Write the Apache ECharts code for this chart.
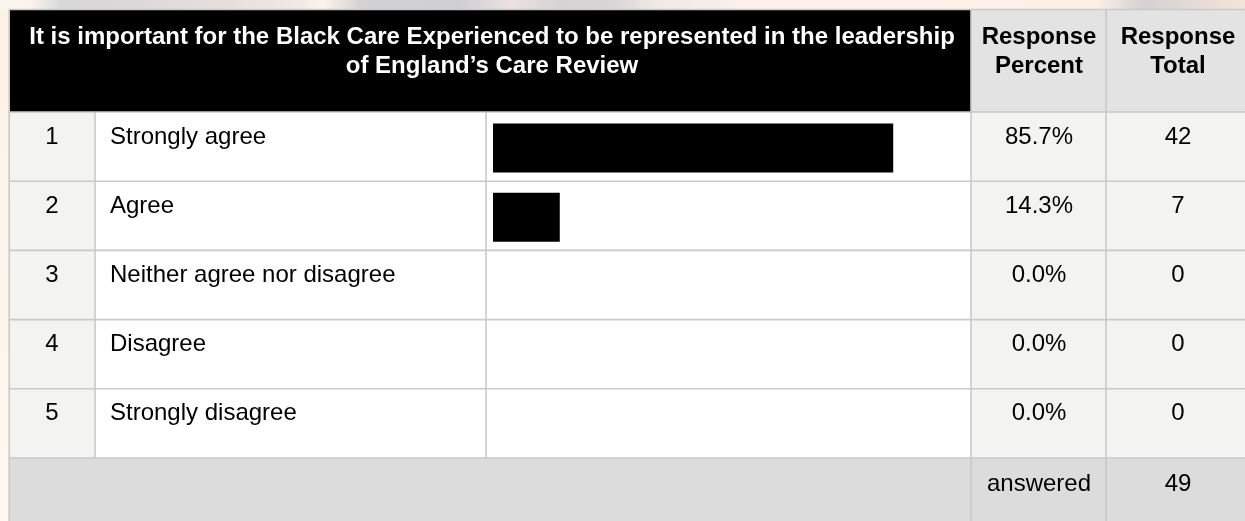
<!DOCTYPE html>
<html>
<head>
<meta charset="utf-8">
<script src="https://cdn.jsdelivr.net/npm/echarts@6/dist/echarts.min.js"></script>
<style>
  html, body { margin: 0; padding: 0; background: #fdf6ee; }
  #chart { width: 1245px; height: 521px; }
</style>
</head>
<body>
<div id="chart"></div>
<script>
// Survey question and answers
const titleLines = [
  'It is important for the Black Care Experienced to be represented in the leadership',
  'of England\u2019s Care Review'
];
const headPercent = ['Response', 'Percent'];
const headTotal = ['Response', 'Total'];
const rowNumbers = ['1', '2', '3', '4', '5'];
const categories = ['Strongly agree', 'Agree', 'Neither agree nor disagree', 'Disagree', 'Strongly disagree'];
const percents = [85.7, 14.3, 0.0, 0.0, 0.0];
const totals = [42, 7, 0, 0, 0];
const answeredLabel = 'answered';
const answeredTotal = 49;

// Table geometry
const COLS = [10, 95, 486, 971, 1106, 1250];
const TOP = 10, HEAD_B = 112, ROW_H = 69.2;
const FOOT_T = HEAD_B + categories.length * ROW_H;
const BOTTOM = 521;
const BORDER = '#c9c9c9';
const FONT = '"Liberation Sans", Arial, sans-serif';

const chart = echarts.init(document.getElementById('chart'), null, { renderer: 'canvas' });

const g = [];
const rect = (x1, y1, x2, y2, fill, z) =>
  g.push({ type: 'rect', z: z || 0, silent: true, shape: { x: x1, y: y1, width: x2 - x1, height: y2 - y1 }, style: { fill } });
const line = (x1, y1, x2, y2) =>
  g.push({ type: 'line', z: 5, silent: true, shape: { x1, y1, x2, y2 }, style: { stroke: BORDER, lineWidth: 1.6 } });
const text = (x, y, t, opts) =>
  g.push({ type: 'text', z: 10, silent: true, x, y, style: Object.assign({
    text: t, fontSize: 24, fontFamily: FONT, fill: '#000', align: 'center', verticalAlign: 'middle'
  }, opts || {}) });

// Blurred backdrop strips around the table
g.push({ type: 'rect', z: -2, silent: true, shape: { x: 0, y: 0, width: 1245, height: TOP },
  style: { fill: new echarts.graphic.LinearGradient(0, 0, 1, 0, [
    { offset: 0.00, color: '#fdf6ee' }, { offset: 0.025, color: '#fbf3ec' },
    { offset: 0.05, color: '#d9d7d7' }, { offset: 0.10, color: '#dcd8d8' },
    { offset: 0.17, color: '#e6dddc' }, { offset: 0.24, color: '#f2e9e4' },
    { offset: 0.26, color: '#fdf4ec' }, { offset: 0.29, color: '#d2d1d3' },
    { offset: 0.37, color: '#cfcfd2' }, { offset: 0.41, color: '#ebe2e0' },
    { offset: 0.45, color: '#d6d3d3' }, { offset: 0.49, color: '#d8d5d5' },
    { offset: 0.53, color: '#f2eae7' }, { offset: 0.60, color: '#fbf0ea' },
    { offset: 0.88, color: '#fcefe8' }, { offset: 0.92, color: '#d6d0d1' },
    { offset: 0.95, color: '#e2d9d6' }, { offset: 1.00, color: '#f2e5da' }
  ]) } });
g.push({ type: 'rect', z: -2, silent: true, shape: { x: 0, y: TOP, width: 9, height: BOTTOM - TOP },
  style: { fill: new echarts.graphic.LinearGradient(0, 0, 0, 1, [
    { offset: 0, color: '#fcf1e6' }, { offset: 0.4, color: '#fdf5ed' }, { offset: 1, color: '#fef8f1' }
  ]) } });

// Cell fills
rect(COLS[0], TOP, COLS[3], HEAD_B, '#000000');
rect(COLS[3], TOP, COLS[5], HEAD_B, '#e3e3e3');
rect(COLS[0], HEAD_B, COLS[1], FOOT_T, '#f3f3f2');
rect(COLS[1], HEAD_B, COLS[3], FOOT_T, '#ffffff');
rect(COLS[3], HEAD_B, COLS[5], FOOT_T, '#f3f3f2');
rect(COLS[0], FOOT_T, COLS[5], BOTTOM, '#dcdcdc');

// Grid lines
line(9, TOP - 0.5, COLS[5], TOP - 0.5);
line(9.2, TOP - 1, 9.2, BOTTOM);
for (let i = 0; i <= categories.length; i++) {
  const y = HEAD_B + i * ROW_H;
  line(COLS[0], y, COLS[5], y);
}
line(COLS[1], HEAD_B, COLS[1], FOOT_T);
line(COLS[2], HEAD_B, COLS[2], FOOT_T);
line(COLS[3], TOP, COLS[3], BOTTOM);
line(COLS[4], TOP, COLS[4], BOTTOM);

// Header text
const headCenter = 492;
text(headCenter, 37, titleLines[0], { fill: '#fff', fontWeight: 'bold' });
text(headCenter, 66, titleLines[1], { fill: '#fff', fontWeight: 'bold' });
const pctX = (COLS[3] + COLS[4]) / 2 + 0.5;
const totX = 1178;
text(pctX, 37, headPercent[0], { fontWeight: 'bold' });
text(pctX, 66, headPercent[1], { fontWeight: 'bold' });
text(totX, 37, headTotal[0], { fontWeight: 'bold' });
text(totX, 66, headTotal[1], { fontWeight: 'bold' });

// Body rows
categories.forEach((c, i) => {
  const y = HEAD_B + i * ROW_H + 25;
  text(52, y, rowNumbers[i]);
  text(110, y, c, { align: 'left' });
  text(pctX, y, percents[i].toFixed(1) + '%');
  text(totX, y, String(totals[i]));
});

// Footer
text(pctX, FOOT_T + 26, answeredLabel);
text(totX, FOOT_T + 26, String(answeredTotal));

chart.setOption({
  animation: false,
  backgroundColor: 'transparent',
  graphic: { elements: g },
  grid: { left: 493, width: 467, top: HEAD_B + 1.5, height: categories.length * ROW_H, containLabel: false },
  xAxis: { type: 'value', min: 0, max: 100, show: false },
  yAxis: { type: 'category', data: categories, inverse: true, show: false },
  series: [{
    type: 'bar',
    data: percents,
    barWidth: 49,
    itemStyle: { color: '#000' },
    silent: true,
    z: 3
  }]
});
</script>
</body>
</html>
